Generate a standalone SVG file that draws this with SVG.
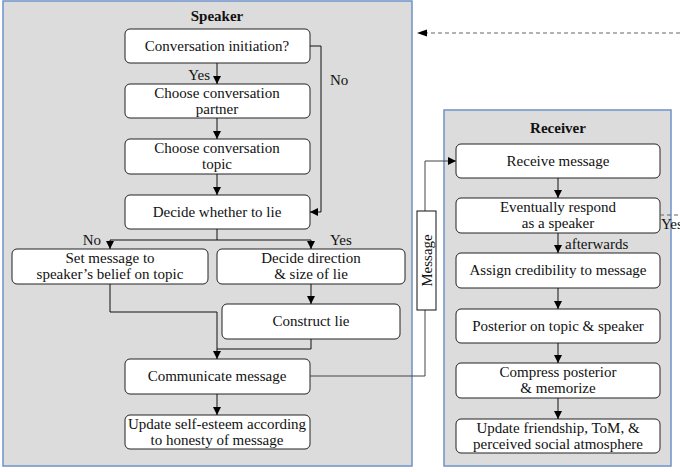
<svg xmlns="http://www.w3.org/2000/svg" width="680" height="472" viewBox="0 0 680 472">
<defs>
<marker id="ah" viewBox="0 0 10 10" refX="10" refY="5" markerWidth="8" markerHeight="8" markerUnits="userSpaceOnUse" orient="auto">
<path d="M0,0 L10,5 L0,10 z" fill="#000"/>
</marker>
</defs>
<style>
.panel{fill:#dcdcdc;stroke:#6f93c8;stroke-width:1.5}
.box{fill:#fff;stroke:#222;stroke-width:1}
.c{text-anchor:middle}
.title{font-weight:bold}
.ln{fill:none;stroke:#111;stroke-width:1}
.dash{fill:none;stroke:#666;stroke-width:1;stroke-dasharray:4,3}
</style>
<g font-family="'Liberation Serif', 'Times New Roman', 'DejaVu Serif', serif" font-size="15" fill="#111">
<g id="speaker-panel">
<rect class="panel" x="3" y="1" width="409" height="465"/>
<text class="c title" x="217" y="21">Speaker</text>
</g>
<g id="receiver-panel">
<rect class="panel" x="444" y="110" width="227" height="356"/>
<text class="c title" x="558" y="133">Receiver</text>
</g>
<g id="n1"><rect class="box" x="125" y="29" width="185" height="34" rx="5"/><text class="c" x="217" y="51">Conversation initiation?</text></g>
<g id="n2"><rect class="box" x="125" y="84" width="185" height="34" rx="5"/><text class="c" x="217" y="98">Choose conversation</text><text class="c" x="217" y="114">partner</text></g>
<g id="n3"><rect class="box" x="125" y="139" width="185" height="35" rx="5"/><text class="c" x="217" y="153">Choose conversation</text><text class="c" x="217" y="169">topic</text></g>
<g id="n4"><rect class="box" x="125" y="195" width="185" height="34" rx="5"/><text class="c" x="217" y="217">Decide whether to lie</text></g>
<g id="n5"><rect class="box" x="12" y="249" width="196" height="35" rx="5"/><text class="c" x="110" y="263">Set message to</text><text class="c" x="110" y="279">speaker’s belief on topic</text></g>
<g id="n6"><rect class="box" x="217" y="249" width="188" height="35" rx="5"/><text class="c" x="311" y="263">Decide direction</text><text class="c" x="311" y="279">&amp; size of lie</text></g>
<g id="n7"><rect class="box" x="222" y="304" width="178" height="35" rx="5"/><text class="c" x="311" y="326">Construct lie</text></g>
<g id="n8"><rect class="box" x="125" y="359" width="185" height="35" rx="5"/><text class="c" x="217" y="381">Communicate message</text></g>
<g id="n9"><rect class="box" x="125" y="415" width="185" height="34" rx="5"/><text class="c" x="217" y="429">Update self-esteem according</text><text class="c" x="217" y="445">to honesty of message</text></g>
<g id="r1"><rect class="box" x="456" y="144" width="204" height="34" rx="5"/><text class="c" x="558" y="166">Receive message</text></g>
<g id="r2"><rect class="box" x="456" y="198" width="204" height="35" rx="5"/><text class="c" x="558" y="212">Eventually respond</text><text class="c" x="558" y="228">as a speaker</text></g>
<g id="r3"><rect class="box" x="456" y="253" width="204" height="35" rx="5"/><text class="c" x="558" y="275">Assign credibility to message</text></g>
<g id="r4"><rect class="box" x="456" y="309" width="204" height="34" rx="5"/><text class="c" x="558" y="331">Posterior on topic &amp; speaker</text></g>
<g id="r5"><rect class="box" x="456" y="363" width="204" height="35" rx="5"/><text class="c" x="558" y="377">Compress posterior</text><text class="c" x="558" y="393">&amp; memorize</text></g>
<g id="r6"><rect class="box" x="456" y="419" width="204" height="34" rx="5"/><text class="c" x="558" y="433">Update friendship, ToM, &amp;</text><text class="c" x="558" y="449">perceived social atmosphere</text></g>
<g id="connectors">
<path class="ln" d="M217,63 V84" marker-end="url(#ah)"/>
<path class="ln" d="M310,46 H321 V212 H310" marker-end="url(#ah)"/>
<path class="ln" d="M217,118 V139" marker-end="url(#ah)"/>
<path class="ln" d="M217,174 V195" marker-end="url(#ah)"/>
<path class="ln" d="M217,229 V240"/>
<path class="ln" d="M110,240 H311"/>
<path class="ln" d="M110,240 V249" marker-end="url(#ah)"/>
<path class="ln" d="M311,240 V249" marker-end="url(#ah)"/>
<path class="ln" d="M311,284 V304" marker-end="url(#ah)"/>
<path class="ln" d="M110,284 V312 H217 V359" marker-end="url(#ah)"/>
<path class="ln" d="M311,339 V349 H217"/>
<path class="ln" d="M217,394 V415" marker-end="url(#ah)"/>
<path fill="none" stroke="#444" stroke-width="1" d="M310,376 H425 V161 H456" marker-end="url(#ah)"/>
<path class="ln" d="M558,178 V198" marker-end="url(#ah)"/>
<path class="ln" d="M558,233 V253" marker-end="url(#ah)"/>
<path class="ln" d="M558,288 V309" marker-end="url(#ah)"/>
<path class="ln" d="M558,343 V363" marker-end="url(#ah)"/>
<path class="ln" d="M558,398 V419" marker-end="url(#ah)"/>
<path class="dash" d="M680,33 H420"/>
<path d="M417,33 L427,29.5 L427,36.5 z" fill="#000"/>
<path class="dash" d="M660,215 H680"/>
<g id="message-label"><rect x="417" y="211" width="19" height="99" fill="#fff" stroke="#111" stroke-width="1"/><text class="c" transform="translate(431.5,260.5) rotate(-90)" x="0" y="0">Message</text></g>
<text x="210" y="80" text-anchor="end">Yes</text>
<text x="330" y="85">No</text>
<text x="101" y="245" text-anchor="end">No</text>
<text x="330" y="245">Yes</text>
<text x="565" y="249">afterwards</text>
<text x="661" y="229">Yes</text>
</g>
</g>
</svg>
